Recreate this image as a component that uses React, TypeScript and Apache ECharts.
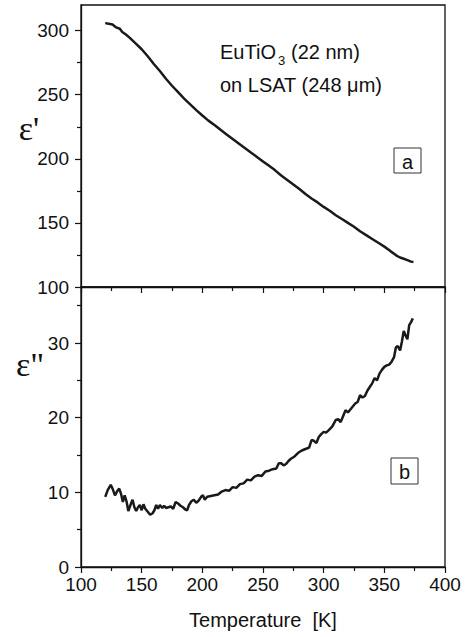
import React, { useEffect, useRef } from "react";
import * as echarts from "echarts";

// Real part of the permittivity, eps' vs temperature (K)
const tempReal = [
  120, 123, 126, 129, 132, 134, 137, 140, 145, 150, 155, 160, 165, 170, 175, 180, 185, 190, 195,
  200, 205, 210, 215, 220, 225, 230, 235, 240, 245, 250, 255, 260, 265, 270, 275, 280, 285, 290,
  295, 300, 305, 310, 315, 320, 325, 330, 335, 340, 345, 350, 355, 358, 360, 363, 366, 369, 372, 374,
];
const epsReal = [
  306.0, 305.3, 304.8, 302.5, 301.5, 299.0, 297.0, 294.5, 290.0, 285.5, 280.0, 274.0, 268.5, 262.5,
  257.0, 252.0, 247.0, 242.5, 238.0, 233.8, 229.8, 226.3, 222.6, 219.0, 215.5, 212.0, 208.5, 205.0,
  201.5, 198.0, 194.5, 191.0, 187.0, 183.5, 180.0, 176.5, 172.5, 169.0, 166.0, 162.5, 159.5, 156.0,
  153.0, 150.0, 147.0, 143.5, 140.5, 137.5, 134.5, 131.5, 128.0, 126.0, 124.5, 123.0, 122.0, 121.0,
  119.8, 119.5,
];

// Imaginary part of the permittivity, eps'' vs temperature (K)
const tempImag = [
  120, 122, 124.5, 126, 128, 130, 131.5, 133, 134.5, 136, 137.5, 139, 141, 142.5, 144, 145.5, 147,
  148.5, 150, 151.5, 153, 155, 157, 159, 160.5, 162, 163.5, 165, 167, 168.5, 170, 172, 174, 176, 178,
  180, 182, 184, 186, 187.5, 189, 191, 193, 195, 197, 199, 200.5, 202, 204, 207, 210, 213, 216, 219,
  222, 225, 228, 231, 234, 237, 240, 243, 246, 249, 252, 255, 258, 261, 263, 265, 267, 269, 271, 273,
  276, 279, 282, 285, 288, 290, 292, 294, 296, 298, 300, 302, 304, 307, 310, 312, 314, 316, 318, 320,
  323, 326, 328, 330, 332, 334, 336, 338, 340, 342, 344, 346, 348, 350, 352, 354, 356, 358, 359.5,
  361, 363, 364.5, 366, 367.5, 369, 370.5, 372, 373.5,
];
const epsImag = [
  9.4, 10.3, 11.0, 10.5, 9.6, 10.2, 10.5, 9.8, 8.7, 9.6, 8.8, 7.5, 8.4, 9.0, 8.0, 7.5, 8.0, 8.3, 7.6,
  8.4, 7.8, 7.4, 7.0, 7.2, 7.6, 8.3, 7.8, 8.3, 7.9, 8.2, 7.9, 8.0, 8.1, 7.8, 8.7, 8.5, 8.2, 8.0, 7.7,
  7.6, 8.3, 8.8, 9.0, 8.6, 8.9, 9.4, 9.6, 9.0, 9.4, 9.5, 9.6, 9.7, 10.1, 10.3, 10.2, 10.7, 10.6, 11.1,
  11.2, 11.7, 11.6, 12.1, 12.3, 12.2, 12.8, 12.9, 13.1, 13.2, 13.9, 13.9, 13.6, 13.8, 14.2, 14.5,
  14.8, 15.3, 15.6, 15.8, 16.0, 17.0, 16.9, 16.6, 17.4, 17.8, 18.1, 18.0, 18.3, 18.8, 19.7, 19.8,
  19.4, 20.2, 21.0, 20.7, 21.3, 21.9, 22.1, 23.0, 22.7, 22.9, 23.6, 24.1, 24.6, 25.3, 25.0, 25.9,
  26.4, 26.8, 27.0, 27.1, 27.5, 28.1, 29.4, 29.6, 29.0, 30.2, 31.6, 31.0, 30.5, 32.4, 32.8, 33.3,
];

const realMajorTicks = [100, 150, 200, 250, 300];
const realMinorTicks = [125, 175, 225, 275];
const imagMajorTicks = [0, 10, 20, 30];
const imagMinorTicks = [5, 15, 25, 35];

const FONT = "Liberation Sans, Arial, sans-serif";
const INK = "#111";

// Two left axes per panel: one carries the line, labels and long ticks, the other the short minor ticks
function yPair(gridIndex: number, min: number, max: number, major: number[], minor: number[]) {
  return [
    {
      type: "value",
      gridIndex,
      position: "left",
      min,
      max,
      splitLine: { show: false },
      axisLine: { show: true, onZero: false, lineStyle: { color: INK, width: 1.3 } },
      axisTick: { show: true, inside: false, length: 6, customValues: major, lineStyle: { color: INK, width: 1.2 } },
      axisLabel: { show: true, customValues: major, margin: 12, color: INK, fontSize: 19, fontFamily: FONT },
    },
    {
      type: "value",
      gridIndex,
      position: "left",
      offset: 0,
      min,
      max,
      splitLine: { show: false },
      axisLine: { show: false, onZero: false },
      axisTick: { show: true, inside: false, length: 4, customValues: minor, lineStyle: { color: INK, width: 1.2 } },
      axisLabel: { show: false },
    },
  ];
}

function xAxisFor(gridIndex: number, labels: boolean) {
  return {
    type: "value",
    gridIndex,
    position: "bottom",
    min: 100,
    max: 400,
    interval: 50,
    splitLine: { show: false },
    axisLine: { show: true, onZero: false, lineStyle: { color: INK, width: 1.3 } },
    axisTick: { show: true, inside: false, length: 6, lineStyle: { color: INK, width: 1.2 } },
    minorTick: { show: true, splitNumber: 2, length: 4, lineStyle: { color: INK, width: 1.2 } },
    minorSplitLine: { show: false },
    axisLabel: { show: labels, margin: 8, color: INK, fontSize: 19, fontFamily: FONT },
  };
}

function labelBox(x: number, y: number, w: number, h: number, letter: string) {
  return {
    type: "group",
    children: [
      { type: "rect", shape: { x, y, width: w, height: h }, style: { fill: "#fff", stroke: "#333", lineWidth: 1 } },
      {
        type: "text",
        x: x + w / 2,
        y: y + h / 2 + 1,
        style: { text: letter, font: `20px ${FONT}`, fill: INK, align: "center", verticalAlign: "middle" },
      },
    ],
  };
}

export default function App() {
  const ref = useRef<HTMLDivElement>(null);

  useEffect(() => {
    if (!ref.current) return;
    const chart = echarts.init(ref.current, undefined, { renderer: "svg" });

    const realData = tempReal.map((t, i) => [t, epsReal[i]]);
    const imagData = tempImag.map((t, i) => [t, epsImag[i]]);

    chart.setOption({
      animation: false,
      backgroundColor: "#fff",
      grid: [
        { left: 81, width: 364, top: 5, height: 282, show: true, borderColor: INK, borderWidth: 1.3, backgroundColor: "transparent" },
        { left: 81, width: 364, top: 287, height: 280, show: true, borderColor: INK, borderWidth: 1.3, backgroundColor: "transparent" },
      ],
      xAxis: [xAxisFor(0, false), xAxisFor(1, true)],
      yAxis: [
        ...yPair(0, 100, 320, realMajorTicks, realMinorTicks),
        ...yPair(1, 0, 37.5, imagMajorTicks, imagMinorTicks),
      ],
      series: [
        {
          type: "line",
          xAxisIndex: 0,
          yAxisIndex: 0,
          data: realData,
          showSymbol: false,
          lineStyle: { color: "#1a1a1a", width: 2.5 },
        },
        {
          type: "line",
          xAxisIndex: 1,
          yAxisIndex: 2,
          data: imagData,
          showSymbol: false,
          lineStyle: { color: "#1a1a1a", width: 2.5 },
        },
      ],
      graphic: [
        {
          type: "text",
          x: 29,
          y: 128,
          style: { text: "ε'", font: "34px Liberation Serif, serif", fill: INK, align: "center", verticalAlign: "middle" },
        },
        {
          type: "text",
          x: 30,
          y: 364,
          style: { text: "ε\"", font: "34px Liberation Serif, serif", fill: INK, align: "center", verticalAlign: "middle" },
        },
        {
          type: "text",
          x: 220,
          y: 52,
          style: { text: "EuTiO", font: `20px ${FONT}`, fill: INK, align: "left", verticalAlign: "middle" },
        },
        {
          type: "text",
          x: 278,
          y: 60,
          style: { text: "3", font: `13px ${FONT}`, fill: INK, align: "left", verticalAlign: "middle" },
        },
        {
          type: "text",
          x: 291,
          y: 52,
          style: { text: "(22 nm)", font: `20px ${FONT}`, fill: INK, align: "left", verticalAlign: "middle" },
        },
        {
          type: "text",
          x: 220,
          y: 85,
          style: { text: "on LSAT (248 μm)", font: `20px ${FONT}`, fill: INK, align: "left", verticalAlign: "middle" },
        },
        labelBox(394, 148, 27, 25, "a"),
        labelBox(391, 458, 27, 26, "b"),
        {
          type: "text",
          x: 263,
          y: 620,
          style: { text: "Temperature  [K]", font: `20px ${FONT}`, fill: INK, align: "center", verticalAlign: "middle" },
        },
      ],
    });

    return () => chart.dispose();
  }, []);

  return <div ref={ref} style={{ position: "fixed", left: 0, top: 0, width: 466, height: 637 }} />;
}
